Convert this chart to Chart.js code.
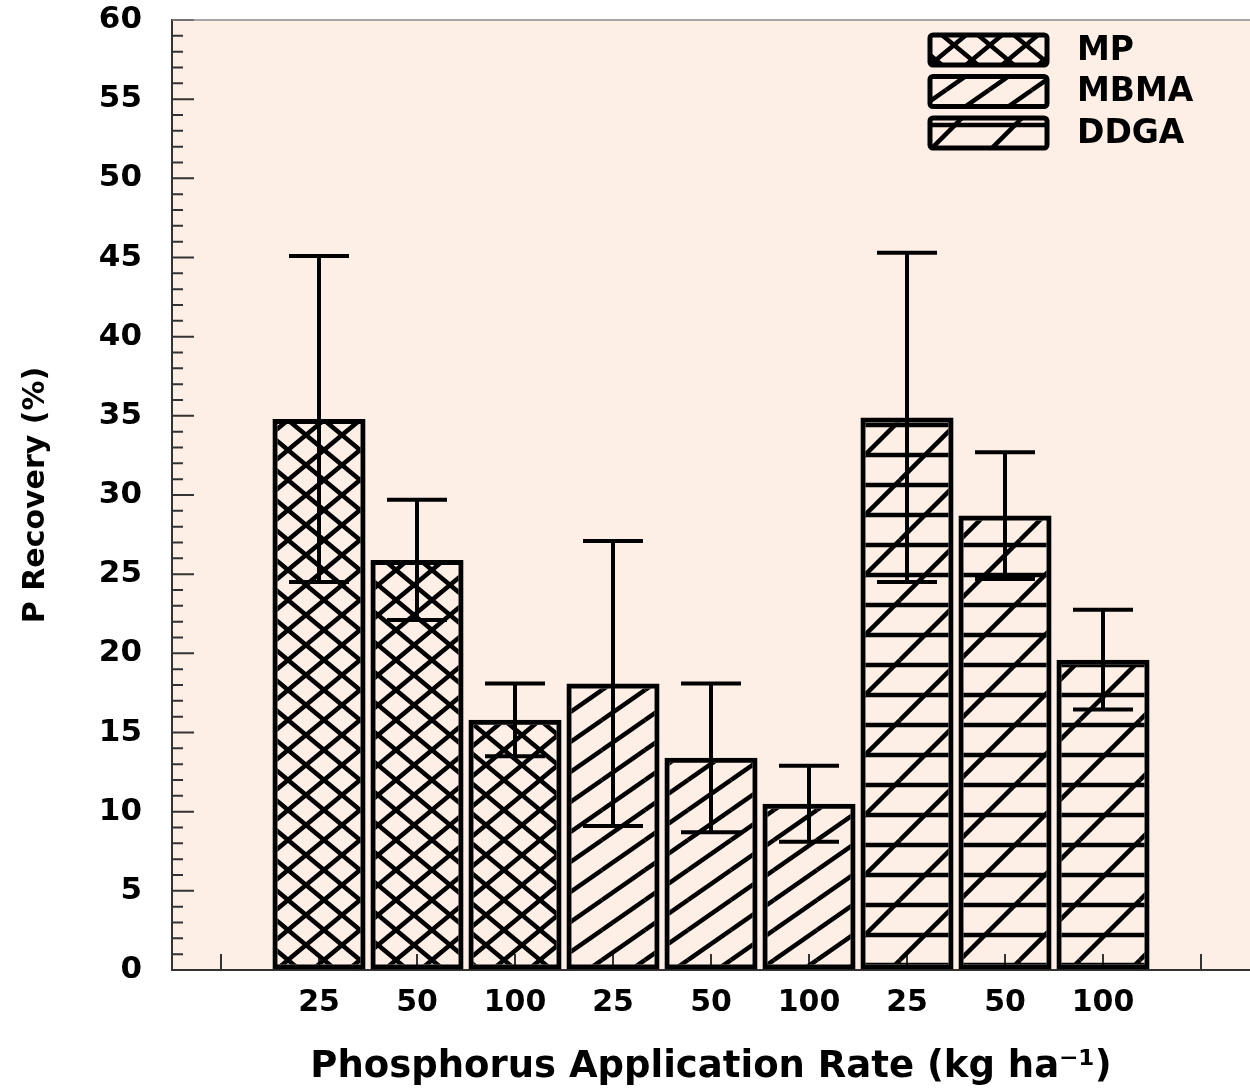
<!DOCTYPE html>
<html>
<head>
<meta charset="utf-8">
<script src="https://cdn.jsdelivr.net/npm/chart.js@4.4.1/dist/chart.umd.min.js"></script>
<style>
html, body { margin: 0; padding: 0; background: #fff; }
</style>
</head>
<body>
<canvas id="chart" width="1250" height="1092"></canvas>
<script>
const rates = ['', '25', '50', '100', '25', '50', '100', '25', '50', '100', ''];

const mpValues   = [null, 34.8, 25.9, 15.8, null, null, null, null, null, null, null];
const mbmaValues = [null, null, null, null, 18.1, 13.4, 10.5, null, null, null, null];
const ddgaValues = [null, null, null, null, null, null, null, 34.9, 28.7, 19.6, null];

const mpErrors   = [null, 10.3, 3.8, 2.3, null, null, null, null, null, null, null];
const mbmaErrors = [null, null, null, null, 9.0, 4.7, 2.4, null, null, null, null];
const ddgaErrors = [null, null, null, null, null, null, null, 10.4, 4.0, 3.15, null];

const yTicks = [0, 5, 10, 15, 20, 25, 30, 35, 40, 45, 50, 55, 60];

const FONT = 'DejaVu Sans';
const BG = '#fdefe6';

function makePattern(kind) {
    const c = document.createElement('canvas');
    let w = 36, h = 30;
    if (kind === 'diag') { w = 43; h = 30; }
    if (kind === 'ddga') { w = 60; h = 60; }
    c.width = w;
    c.height = h;
    const g = c.getContext('2d');
    g.strokeStyle = '#000';
    g.lineWidth = 4.5;
    for (let dx = -w; dx <= w; dx += w) {
        for (let dy = -h; dy <= h; dy += h) {
            g.beginPath();
            if (kind === 'cross') {
                g.moveTo(dx, dy); g.lineTo(dx + w, dy + h);
                g.moveTo(dx, dy + h); g.lineTo(dx + w, dy);
            } else {
                g.moveTo(dx, dy + h); g.lineTo(dx + w, dy);
            }
            g.stroke();
        }
    }
    if (kind === 'ddga') {
        g.beginPath();
        g.moveTo(0, 5); g.lineTo(w, 5);
        g.moveTo(0, 35); g.lineTo(w, 35);
        g.stroke();
    }
    return g.createPattern(c, 'repeat');
}

function barSet(label, data, errors, kind) {
    return {
        label: label,
        data: data,
        errors: errors,
        backgroundColor: makePattern(kind),
        borderColor: '#000',
        borderWidth: 5,
        borderSkipped: false,
        grouped: false,
        barPercentage: 0.95,
        categoryPercentage: 1
    };
}

const framePlugin = {
    id: 'frame',
    beforeDraw(chart) {
        const a = chart.chartArea;
        const ctx = chart.ctx;
        ctx.save();
        ctx.fillStyle = BG;
        ctx.fillRect(a.left, a.top, a.right - a.left, a.bottom - a.top);
        ctx.restore();
    },
    beforeDatasetsDraw(chart) {
        const a = chart.chartArea;
        const ctx = chart.ctx;
        const y = chart.scales.y;
        const x = chart.scales.x;
        ctx.save();
        ctx.strokeStyle = '#333';
        ctx.lineWidth = 2;
        ctx.beginPath();
        for (let v = 0; v <= 60; v++) {
            const py = y.getPixelForValue(v);
            const len = v % 5 === 0 ? 22 : 11;
            ctx.moveTo(a.left, py);
            ctx.lineTo(a.left + len, py);
        }
        for (let i = 0; i < rates.length; i++) {
            const px = x.getPixelForValue(i);
            ctx.moveTo(px, a.bottom);
            ctx.lineTo(px, a.bottom - 16);
        }
        ctx.stroke();
        ctx.strokeStyle = '#8a8a8a';
        ctx.lineWidth = 1.5;
        ctx.beginPath();
        ctx.moveTo(a.left, a.top);
        ctx.lineTo(a.right, a.top);
        ctx.stroke();
        ctx.restore();
    },
    afterDatasetsDraw(chart) {
        const a = chart.chartArea;
        const ctx = chart.ctx;
        const y = chart.scales.y;
        ctx.save();
        ctx.strokeStyle = '#000';
        ctx.lineWidth = 4;
        chart.data.datasets.forEach(function(ds, d) {
            const meta = chart.getDatasetMeta(d);
            ds.data.forEach(function(v, i) {
                if (v === null) return;
                const e = ds.errors[i];
                const cx = meta.data[i].x;
                const top = y.getPixelForValue(v + e);
                const bot = y.getPixelForValue(v - e);
                ctx.beginPath();
                ctx.moveTo(cx, top); ctx.lineTo(cx, bot);
                ctx.moveTo(cx - 30, top); ctx.lineTo(cx + 30, top);
                ctx.moveTo(cx - 30, bot); ctx.lineTo(cx + 30, bot);
                ctx.stroke();
            });
        });

        // legend
        const bx = a.right - 320;
        chart.data.datasets.forEach(function(ds, k) {
            const by = a.top + 15 + k * 41.5;
            ctx.fillStyle = ds.backgroundColor;
            ctx.lineWidth = 5;
            ctx.beginPath();
            ctx.roundRect(bx, by, 117, 30, 3);
            ctx.fill();
            ctx.stroke();
            ctx.fillStyle = '#000';
            ctx.font = 'bold 33px "' + FONT + '"';
            ctx.textBaseline = 'middle';
            ctx.fillText(ds.label, bx + 147, by + 16);
        });
        ctx.restore();
    }
};

function noPad(s) {
    s.paddingTop = 0;
    s.paddingBottom = 0;
    s.paddingLeft = 0;
    s.paddingRight = 0;
}

function drawChart() {
    const ctx = document.getElementById('chart').getContext('2d');
    return new Chart(ctx, {
        type: 'bar',
        data: {
            labels: rates,
            datasets: [
                barSet('MP', mpValues, mpErrors, 'cross'),
                barSet('MBMA', mbmaValues, mbmaErrors, 'diag'),
                barSet('DDGA', ddgaValues, ddgaErrors, 'ddga')
            ]
        },
        options: {
            responsive: false,
            animation: false,
            layout: { padding: { top: 20, right: 0, left: 0, bottom: 0 } },
            plugins: {
                legend: { display: false },
                tooltip: { enabled: false }
            },
            scales: {
                x: {
                    grid: { display: true, drawOnChartArea: false, drawTicks: false },
                    border: { display: true, color: '#333', width: 2 },
                    ticks: {
                        color: '#000',
                        padding: 15,
                        maxRotation: 0,
                        autoSkip: false,
                        font: { family: FONT, size: 30, weight: 'bold' }
                    },
                    title: {
                        display: true,
                        text: 'Phosphorus Application Rate (kg ha\u207B\u00B9)',
                        color: '#000',
                        padding: { top: 0, bottom: 2 },
                        font: { family: FONT, size: 37, weight: 'bold' }
                    },
                    afterFit(s) { s.height = 122; noPad(s); }
                },
                y: {
                    min: 0,
                    max: 60,
                    afterBuildTicks(s) { s.ticks = yTicks.map(v => ({ value: v })); },
                    grid: { display: true, drawOnChartArea: false, drawTicks: false },
                    border: { display: true, color: '#333', width: 2 },
                    ticks: {
                        color: '#000',
                        padding: 30,
                        font: { family: FONT, size: 31, weight: 'bold' }
                    },
                    title: {
                        display: true,
                        text: 'P Recovery (%)',
                        color: '#000',
                        padding: { top: 18, bottom: 0 },
                        font: { family: FONT, size: 30, weight: 'bold' }
                    },
                    afterFit(s) { s.width = 172; noPad(s); }
                }
            }
        },
        plugins: [framePlugin]
    });
}

drawChart();
</script>
</body>
</html>
